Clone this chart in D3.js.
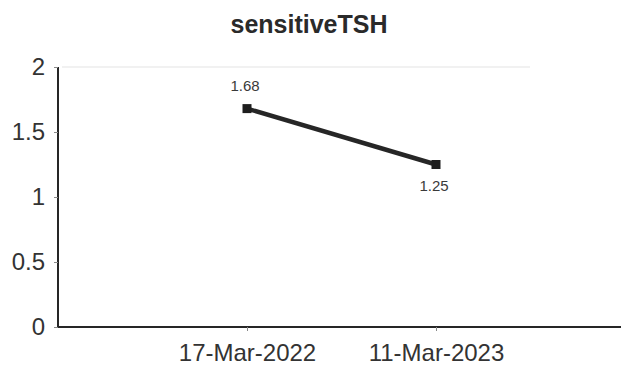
<!DOCTYPE html>
<html>
<head>
<meta charset="utf-8">
<script src="https://cdn.jsdelivr.net/npm/d3@7/dist/d3.min.js"></script>
<style>
  html, body { margin: 0; padding: 0; background: #fff; }
  svg { display: block; }
  text { font-family: "Liberation Sans", Arial, sans-serif; }
</style>
</head>
<body>
<svg id="chart" width="621" height="373"></svg>
<script>
// Chart data
const title = "sensitiveTSH";
const dates = ["17-Mar-2022", "11-Mar-2023"];
const values = [1.68, 1.25];
const yTicks = [0, 0.5, 1, 1.5, 2];

const svg = d3.select("#chart");
const ink = "#262626";

const x = d3.scalePoint().domain(dates).range([58, 625]).padding(1);
const y = d3.scaleLinear().domain([0, 2]).range([327, 67]);

// Title
svg.append("text")
  .attr("x", 309).attr("y", 33)
  .attr("text-anchor", "middle")
  .attr("font-size", 25).attr("font-weight", "bold")
  .attr("fill", "#2a2a2a")
  .text(title);

// Faint line at the top of the plot
svg.append("line")
  .attr("x1", 62).attr("x2", 530)
  .attr("y1", y(2)).attr("y2", y(2))
  .attr("stroke", "#ececec").attr("stroke-width", 1.5);

// Y axis
const yAxis = svg.append("g")
  .attr("transform", "translate(58,0)")
  .call(d3.axisLeft(y).tickValues(yTicks).tickSize(4).tickPadding(9)
    .tickFormat(d => String(d)));
yAxis.select(".domain").attr("stroke", ink).attr("stroke-width", 2).attr("d", `M0,${y(2)}V${y(0)}`);
yAxis.selectAll(".tick line").attr("stroke", "#888");
yAxis.selectAll(".tick text")
  .attr("font-size", 24).attr("fill", "#333")
  .attr("font-family", "'Liberation Sans', Arial, sans-serif");

// X axis
const xAxis = svg.append("g")
  .attr("transform", `translate(0,${y(0)})`)
  .call(d3.axisBottom(x).tickSize(4).tickPadding(13));
xAxis.select(".domain").attr("stroke", ink).attr("stroke-width", 2).attr("d", "M58,0H621");
xAxis.selectAll(".tick line").attr("stroke", "#888");
xAxis.selectAll(".tick text")
  .attr("font-size", 24).attr("fill", "#333")
  .attr("font-family", "'Liberation Sans', Arial, sans-serif");

// Series line
const pts = dates.map((d, i) => ({ d, v: values[i] }));
svg.append("path")
  .datum(pts)
  .attr("fill", "none")
  .attr("stroke", ink)
  .attr("stroke-width", 4.5)
  .attr("d", d3.line().x(p => x(p.d)).y(p => y(p.v)));

// Square markers
svg.selectAll("rect.marker")
  .data(pts)
  .join("rect")
  .attr("class", "marker")
  .attr("x", p => x(p.d) - 4.5)
  .attr("y", p => y(p.v) - 4.5)
  .attr("width", 9).attr("height", 9)
  .attr("fill", "#1e1e1e");

// Value labels: first above its point, second below
svg.selectAll("text.val")
  .data(pts)
  .join("text")
  .attr("class", "val")
  .attr("x", p => x(p.d) - 2)
  .attr("y", (p, i) => i === 0 ? y(p.v) - 18 : y(p.v) + 26)
  .attr("text-anchor", "middle")
  .attr("font-size", 15)
  .attr("fill", "#3a3a3a")
  .text(p => p.v.toFixed(2));
</script>
</body>
</html>
